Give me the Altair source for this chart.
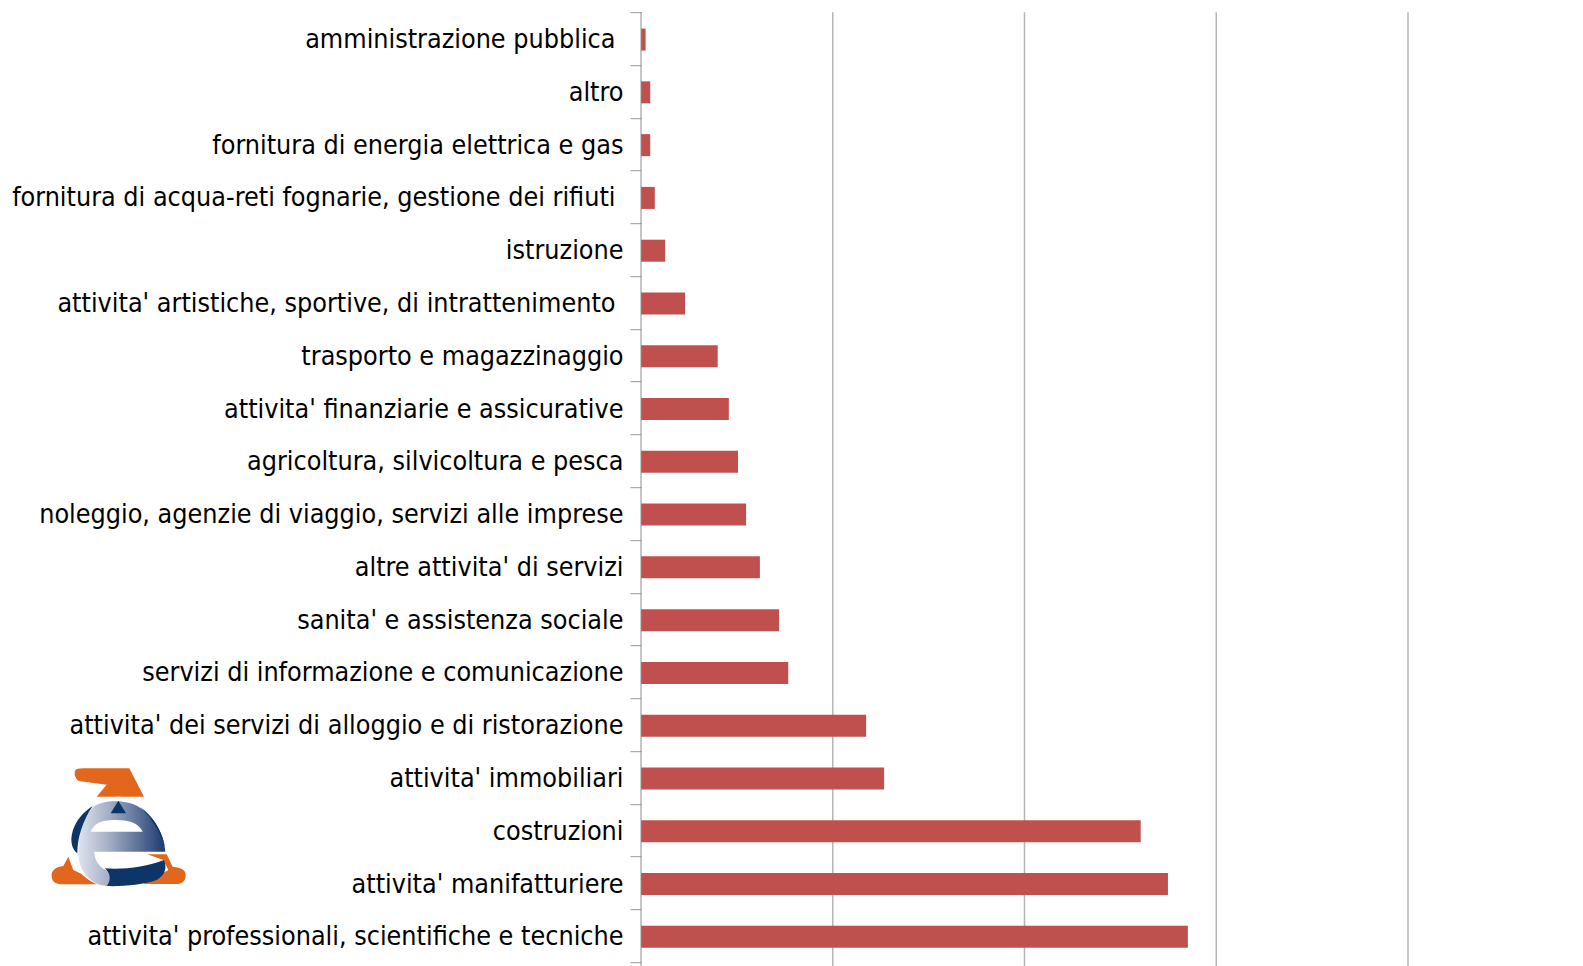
import base64
import altair as alt
import pandas as pd

categories = [
    "amministrazione pubblica", "altro", "fornitura di energia elettrica e gas",
    "fornitura di acqua-reti fognarie, gestione dei rifiuti", "istruzione",
    "attivita' artistiche, sportive, di intrattenimento", "trasporto e magazzinaggio",
    "attivita' finanziarie e assicurative", "agricoltura, silvicoltura e pesca",
    "noleggio, agenzie di viaggio, servizi alle imprese", "altre attivita' di servizi",
    "sanita' e assistenza sociale", "servizi di informazione e comunicazione",
    "attivita' dei servizi di alloggio e di ristorazione", "attivita' immobiliari",
    "costruzioni", "attivita' manifatturiere",
    "attivita' professionali, scientifiche e tecniche",
]
values = [0.12, 0.24, 0.24, 0.36, 0.63, 1.15, 2.0, 2.29, 2.53, 2.74, 3.1, 3.6, 3.84,
          5.87, 6.34, 13.03, 13.74, 14.26]
grid_values = [5, 10, 15, 20]

logo_svg = """<svg xmlns="http://www.w3.org/2000/svg" viewBox="0 0 480 390" preserveAspectRatio="none">
<defs><linearGradient id="g" x1="0" x2="1" y1="0" y2="0"><stop offset="0" stop-color="#dfe3ec"/><stop offset="0.35" stop-color="#a4aec6"/><stop offset="1" stop-color="#1c3a70"/></linearGradient>
<filter id="b"><feGaussianBlur stdDeviation="2"/></filter></defs>
<g filter="url(#b)">
<path fill="#e2661c" d="M105 32Q110 25 130 25H268L312 110H170L200 74 116 63Q100 50 105 32Z"/>
<path fill="#e2661c" d="M85 290L70 318C45 320 32 335 35 350 37 368 50 373 70 373H190L100 330Z"/>
<ellipse cx="236" cy="248" rx="152" ry="138" fill="#fff"/>
<path fill="#e2661c" d="M322 283H380L398 320C415 322 437 325 437 345 437 365 425 372 410 372H310L385 330 370 300Z"/>
<path fill="url(#g)" d="M160 140C190 118 270 115 310 150 350 180 372 230 376 275H162C165 300 175 320 198 330 212 345 215 365 200 378 150 375 115 330 115 280 115 220 130 175 160 140Z"/>
<path fill="#0f3468" d="M158 138C115 165 90 210 95 250 97 265 105 275 112 280 112 230 130 180 158 138Z"/>
<path fill="#0f3468" d="M300 140C340 170 368 215 376 265 362 215 335 175 300 140Z"/>
<path fill="#fff" d="M152 215C165 185 190 180 230 180 270 180 295 190 308 215Z"/>
<path fill="#0f3468" d="M235 122L212 160H258Z"/>
<path fill="#0f3468" d="M195 325C250 330 320 320 372 300 382 325 375 345 350 360 310 375 240 380 200 378 215 360 210 340 195 325Z"/>
</g></svg>"""
logo_url = "data:image/svg+xml;base64," + base64.b64encode(logo_svg.encode()).decode()

df = pd.DataFrame({"settore": categories, "valore": values})
x_scale = alt.Scale(domain=[0, 20], nice=False)

grid = alt.Chart(pd.DataFrame({"g": grid_values})).mark_rule(color="#b5b5b5", strokeWidth=1.5).encode(
    x=alt.X("g:Q", scale=x_scale, axis=None),
    y=alt.value(0), y2=alt.value(954),
)
base_line = alt.Chart(pd.DataFrame({"g": [0]})).mark_rule(color="#8c8c8c", strokeWidth=1).encode(
    x=alt.X("g:Q", scale=x_scale, axis=None),
    y=alt.value(0), y2=alt.value(954),
)

padded = ("datum.value === 'amministrazione pubblica' || "
          "datum.value === 'fornitura di acqua-reti fognarie, gestione dei rifiuti' || "
          "datum.value === \"attivita' artistiche, sportive, di intrattenimento\"")

bars = alt.Chart(df).mark_bar(size=22, color="#c0504d", yOffset=1).encode(
    x=alt.X("valore:Q", scale=x_scale, axis=None),
    y=alt.Y("settore:N", sort=categories,
            scale=alt.Scale(paddingInner=0, paddingOuter=0),
            axis=alt.Axis(title=None, tickBand="extent", tickSize=11, tickColor="#999999", tickWidth=1,
                          domain=False, grid=False,
                          labelPadding={"condition": {"test": padded, "value": 15}, "value": 7},
                          labelOffset=1,
                          labelFont="DejaVu Sans Condensed", labelFontSize=26.7, labelColor="#000000",
                          labelLimit=700)),
)

logo = alt.Chart(pd.DataFrame({"a": [0]})).mark_image(
    url=logo_url, width=160, height=130, align="left", baseline="top"
).encode(x=alt.value(-601), y=alt.value(747.8))

chart = alt.layer(grid, bars, base_line, logo).properties(
    width=767, height=950,
    padding={"left": 633, "top": 4.2, "right": 10, "bottom": 3.8},
    autosize=alt.AutoSizeParams(type="none"),
).configure_view(stroke=None)

chart.save("out.html", embed_options={"renderer": "svg", "actions": False})
